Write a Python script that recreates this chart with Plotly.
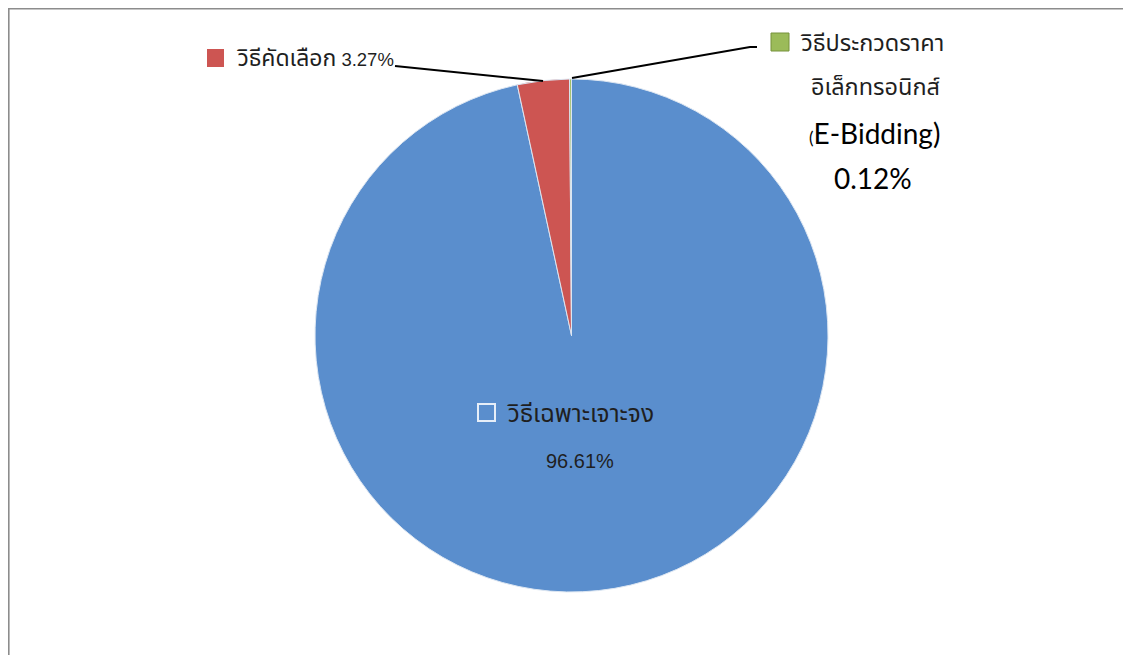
import plotly.graph_objects as go

W, H = 1131, 655
OFF = 8  # page body margin

# ---- data ----
labels = ["วิธีเฉพาะเจาะจง", "วิธีคัดเลือก", "วิธีประกวดราคาอิเล็กทรอนิกส์ (E-Bidding)"]
values = [96.61, 3.27, 0.12]
colors = ["#5A8ECD", "#CD5552", "#9BBB59"]


def px(x):
    return (x - OFF) / W


def py(y):
    return 1 - (y - OFF) / H


fig = go.Figure()
fig.add_trace(go.Pie(
    labels=labels,
    values=values,
    sort=False,
    direction="clockwise",
    rotation=0,
    textinfo="none",
    hoverinfo="label+percent",
    marker=dict(colors=colors, line=dict(color="#DCE6F2", width=1)),
    domain=dict(x=[px(315), px(828)], y=[py(592), py(79)]),
    showlegend=False,
))

thai = "Liberation Sans, Noto Sans Thai, Loma, Tahoma, sans-serif"
calib = "Lato, Open Sans, sans-serif"
tcol = "#1f1f1f"

ann = []
shapes = []

# border
shapes.append(dict(type="rect", xref="paper", yref="paper",
                   x0=0.6 / W, x1=px(W + 20), y0=py(H + 20), y1=1 - 0.6 / H,
                   line=dict(color="#8C8C8C", width=2), fillcolor="rgba(0,0,0,0)", layer="above"))

# red label
shapes.append(dict(type="rect", xref="paper", yref="paper",
                   x0=px(207), x1=px(224), y0=py(67), y1=py(49),
                   line=dict(color=colors[1], width=0), fillcolor=colors[1]))
ann.append(dict(x=px(235), y=py(58), xref="paper", yref="paper", xanchor="left", yanchor="middle",
                text=f"<span style='font-size:23px'>{labels[1]}</span> {values[1]:.2f}%", showarrow=False,
                font=dict(family=thai, size=18.5, color=tcol)))
shapes.append(dict(type="path", xref="paper", yref="paper",
                   path=f"M {px(395)},{py(66)} L {px(543)},{py(81)}",
                   line=dict(color="black", width=2)))

# green label
shapes.append(dict(type="rect", xref="paper", yref="paper",
                   x0=px(771), x1=px(789), y0=py(51), y1=py(33),
                   line=dict(color="#76923C", width=1), fillcolor=colors[2]))
shapes.append(dict(type="path", xref="paper", yref="paper",
                   path=f"M {px(572)},{py(78)} L {px(750)},{py(47)} L {px(757)},{py(47)}",
                   line=dict(color="black", width=2)))
ann.append(dict(x=px(798), y=py(43), xref="paper", yref="paper", xanchor="left", yanchor="middle",
                text="วิธีประกวดราคา", showarrow=False,
                font=dict(family=thai, size=23.5, color=tcol)))
ann.append(dict(x=px(875), y=py(87), xref="paper", yref="paper", xanchor="center", yanchor="middle",
                text="อิเล็กทรอนิกส์", showarrow=False,
                font=dict(family=thai, size=23.5, color=tcol)))
ann.append(dict(x=px(874), y=py(133), xref="paper", yref="paper", xanchor="center", yanchor="middle",
                text="<span style='font-size:17px'>(</span>E-Bidding)", showarrow=False,
                font=dict(family=calib, size=28, color="black")))
ann.append(dict(x=px(873), y=py(178), xref="paper", yref="paper", xanchor="center", yanchor="middle",
                text=f"{values[2]:.2f}%", showarrow=False,
                font=dict(family=calib, size=28, color="black")))

# blue label
shapes.append(dict(type="rect", xref="paper", yref="paper",
                   x0=px(478), x1=px(495), y0=py(421), y1=py(404),
                   line=dict(color="#E6EEF8", width=2), fillcolor=colors[0], layer="above"))
ann.append(dict(x=px(505), y=py(413), xref="paper", yref="paper", xanchor="left", yanchor="middle",
                text=labels[0], showarrow=False,
                font=dict(family=thai, size=24.5, color=tcol)))
ann.append(dict(x=px(580), y=py(461), xref="paper", yref="paper", xanchor="center", yanchor="middle",
                text=f"{values[0]:.2f}%", showarrow=False,
                font=dict(family=thai, size=20, color=tcol)))

fig.update_layout(
    width=W, height=H,
    margin=dict(l=0, r=0, t=0, b=0),
    paper_bgcolor="white", plot_bgcolor="white",
    annotations=ann, shapes=shapes,
)

fig.write_html("out.html")
